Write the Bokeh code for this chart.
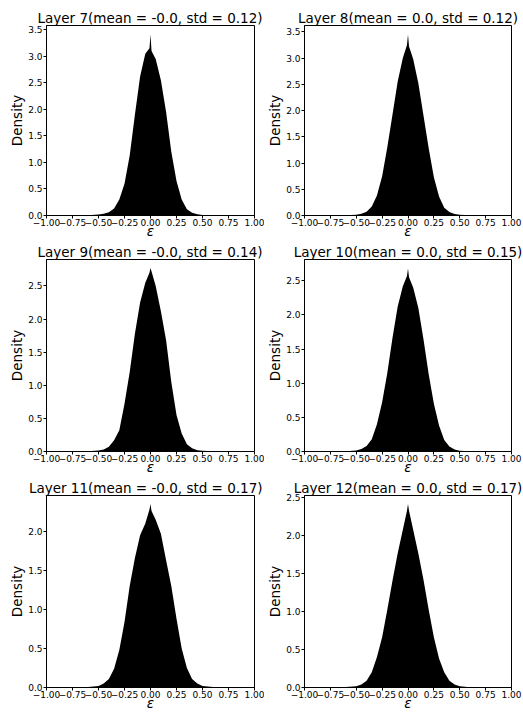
from bokeh.plotting import figure
from bokeh.layouts import gridplot
from bokeh.models import FixedTicker, AllLabels, Range1d, CustomJSTickFormatter
from bokeh.embed import file_html
from bokeh.resources import INLINE

layers = [7, 8, 9, 10, 11, 12]
means = ["-0.0", "0.0", "-0.0", "0.0", "-0.0", "0.0"]
stds = ["0.12", "0.12", "0.14", "0.15", "0.17", "0.17"]

eps = [-0.6, -0.5, -0.45, -0.4, -0.35, -0.3, -0.25, -0.2, -0.15, -0.1, -0.05, -0.01,
       0.0, 0.01, 0.05, 0.1, 0.15, 0.2, 0.25, 0.3, 0.35, 0.4, 0.45, 0.5, 0.6]

dens_l7 = [0.004, 0.02, 0.035, 0.06, 0.13, 0.3, 0.6, 1.13, 1.9, 2.62, 3.05, 3.15,
           3.41, 3.1, 2.95, 2.55, 1.95, 1.2, 0.65, 0.3, 0.12, 0.05, 0.025, 0.01, 0.003]
dens_l8 = [0.004, 0.015, 0.035, 0.07, 0.17, 0.38, 0.75, 1.3, 1.92, 2.55, 3.0, 3.25,
           3.45, 3.22, 2.98, 2.52, 1.9, 1.28, 0.73, 0.36, 0.15, 0.065, 0.03, 0.012, 0.003]
dens_l9 = [0.004, 0.015, 0.03, 0.07, 0.17, 0.32, 0.72, 1.2, 1.78, 2.25, 2.55, 2.7,
           2.77, 2.72, 2.5, 2.12, 1.68, 1.05, 0.55, 0.27, 0.11, 0.05, 0.02, 0.01, 0.003]
dens_l10 = [0.004, 0.015, 0.035, 0.08, 0.18, 0.4, 0.72, 1.15, 1.66, 2.12, 2.42, 2.57,
            2.68, 2.55, 2.4, 2.1, 1.64, 1.13, 0.7, 0.38, 0.17, 0.075, 0.03, 0.012, 0.003]
dens_l11 = [0.006, 0.02, 0.05, 0.11, 0.24, 0.48, 0.84, 1.3, 1.66, 1.95, 2.1, 2.28,
            2.35, 2.26, 2.15, 1.97, 1.63, 1.3, 0.88, 0.5, 0.25, 0.11, 0.05, 0.02, 0.005]
dens_l12 = [0.005, 0.018, 0.04, 0.09, 0.2, 0.4, 0.66, 1.02, 1.4, 1.76, 2.07, 2.32,
            2.41, 2.32, 2.07, 1.76, 1.41, 1.02, 0.66, 0.38, 0.2, 0.09, 0.04, 0.015, 0.004]
densities = [dens_l7, dens_l8, dens_l9, dens_l10, dens_l11, dens_l12]

y_tops = [3.58, 3.62, 2.9, 2.81, 2.46, 2.52]

x_ticks = [-1.0, -0.75, -0.5, -0.25, 0.0, 0.25, 0.5, 0.75, 1.0]
x_tick_labels = ["\u22121.00", "\u22120.75", "\u22120.50", "\u22120.25", "0.00",
                 "0.25", "0.50", "0.75", "1.00"]
y_ticks = [0.0, 0.5, 1.0, 1.5, 2.0, 2.5, 3.0, 3.5]
y_tick_labels = ["0.0", "0.5", "1.0", "1.5", "2.0", "2.5", "3.0", "3.5"]

FONT = "DejaVu Sans"

col_w = [264, 259]
row_h = [241, 236, 236]
border_l = [46, 34]
border_r = [10, 12]
border_t = [25, 16, 16]
title_align = ["right", "center"]
title_offset = [-8, 0]

LOOKUP = ("const i = tvals.findIndex(t => Math.abs(t - tick) < 1e-9);"
          "return i >= 0 ? tlabels[i] : '';")


def make(i):
    r, c = divmod(i, 2)
    p = figure(width=col_w[c], height=row_h[r], output_backend="svg",
               toolbar_location=None, x_range=Range1d(-1.0, 1.0),
               y_range=Range1d(0, y_tops[i]),
               min_border_left=border_l[c], min_border_right=border_r[c],
               min_border_top=border_t[r], min_border_bottom=0,
               background_fill_color="white", border_fill_color="white")
    p.title.text = f"Layer {layers[i]}(mean = {means[i]}, std = {stds[i]})"
    p.title.align = title_align[c]
    p.title.text_font = FONT
    p.title.text_font_size = "13.5px"
    p.title.text_font_style = "normal"
    p.title.text_color = "black"
    p.title.standoff = 0
    p.title.offset = title_offset[c]

    p.varea(x=eps, y1=0, y2=densities[i], fill_color="black", fill_alpha=1.0)

    p.grid.visible = False
    p.outline_line_color = "black"
    p.outline_line_width = 1
    p.outline_line_alpha = 1

    for ax in (p.xaxis[0], p.yaxis[0]):
        ax.axis_line_color = "black"
        ax.major_tick_line_color = "black"
        ax.minor_tick_line_color = None
        ax.major_tick_in = 0
        ax.major_tick_out = 3
        ax.major_label_standoff = 1
        ax.major_label_text_font = FONT
        ax.major_label_text_font_size = "9px"
        ax.major_label_text_color = "black"
        ax.axis_label_text_font = FONT
        ax.axis_label_text_font_size = "13.5px"
        ax.axis_label_text_color = "black"
        ax.axis_label_text_font_style = "normal"
        ax.axis_label_standoff = 0
        ax.major_label_policy = AllLabels()

    p.xaxis.ticker = FixedTicker(ticks=x_ticks)
    p.xaxis.formatter = CustomJSTickFormatter(
        args=dict(tvals=x_ticks, tlabels=x_tick_labels), code=LOOKUP)
    p.xaxis.axis_label = "\u03b5"
    p.xaxis.axis_label_text_font_style = "italic"
    p.xaxis.axis_label_standoff = -6
    p.xaxis.major_label_standoff = 0
    p.yaxis.ticker = FixedTicker(ticks=y_ticks)
    p.yaxis.formatter = CustomJSTickFormatter(
        args=dict(tvals=y_ticks, tlabels=y_tick_labels), code=LOOKUP)
    p.yaxis.axis_label = "Density"
    return p


figs = [make(i) for i in range(6)]
grid = gridplot([[figs[0], figs[1]], [figs[2], figs[3]], [figs[4], figs[5]]],
                toolbar_location=None)

open("out.html", "w").write(file_html(grid, INLINE))
